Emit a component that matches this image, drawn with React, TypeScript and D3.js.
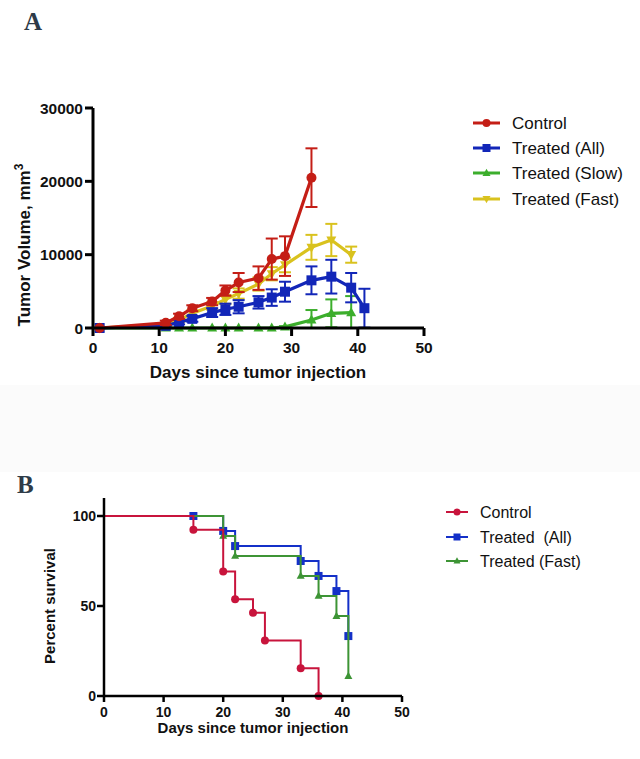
import React from "react";
import * as d3 from "d3";

// ---------- Panel A data (mean ± SEM tumor volume) ----------
const controlDays = [1, 11, 13, 15, 18, 20, 22, 25, 27, 29, 33];
const controlMean = [0, 700, 1600, 2700, 3600, 5100, 6200, 6800, 9400, 9800, 20500];
const controlSem = [0, 300, 350, 400, 500, 700, 1300, 1600, 2800, 2700, 4000];

const allDays = [1, 11, 13, 15, 18, 20, 22, 25, 27, 29, 33, 36, 39, 41];
const allMean = [0, 300, 800, 1250, 2100, 2550, 2900, 3500, 4150, 4950, 6500, 7000, 5500, 2700];
const allSem = [0, 200, 300, 400, 600, 770, 900, 850, 1130, 1360, 1900, 2300, 2000, 2650];

const slowDays = [1, 11, 13, 15, 18, 20, 22, 25, 27, 29, 33, 36, 39];
const slowMean = [0, 0, 0, 0, 0, 0, 0, 0, 0, 150, 1100, 2000, 2100];
const slowSem = [0, 0, 0, 0, 0, 0, 0, 0, 0, 100, 1350, 1900, 2250];

const fastDays = [1, 11, 13, 15, 18, 20, 22, 25, 27, 29, 33, 36, 39];
const fastMean = [0, 500, 1100, 2000, 3000, 3900, 4700, 6000, 7400, 8600, 11000, 12000, 10000];
const fastSem = [0, 200, 300, 400, 500, 600, 700, 900, 900, 1000, 1700, 2200, 1100];

const xTicksA = [0, 10, 20, 30, 40, 50];
const yTicksA = [0, 10000, 20000, 30000];

// ---------- Panel B data (Kaplan–Meier survival) ----------
const kmControlT = [0, 15, 20, 22, 25, 27, 33, 36];
const kmControlS = [100, 92.3, 69.2, 53.8, 46.2, 30.8, 15.4, 0];
const kmAllT = [0, 15, 20, 22, 33, 36, 39, 41];
const kmAllS = [100, 100, 91.7, 83.3, 75, 66.7, 58.3, 33.3];
const kmFastT = [0, 20, 22, 33, 36, 39, 41];
const kmFastS = [100, 88.9, 77.8, 66.7, 55.6, 44.4, 11.1];

const xTicksB = [0, 10, 20, 30, 40, 50];
const yTicksB = [0, 50, 100];

const FONT = "'Liberation Sans', Arial, Helvetica, sans-serif";

type Marker = "circle" | "square" | "triUp" | "triDown";

function MarkerShape({ kind, x, y, size, color }: { kind: Marker; x: number; y: number; size: number; color: string }) {
  const s = size;
  if (kind === "circle") return <circle cx={x} cy={y} r={s / 2} fill={color} />;
  if (kind === "square") return <rect x={x - s / 2} y={y - s / 2} width={s} height={s} fill={color} />;
  const h = s * 0.9;
  if (kind === "triUp")
    return <path d={`M${x},${y - h * 0.6}L${x + s / 2},${y + h * 0.4}L${x - s / 2},${y + h * 0.4}Z`} fill={color} />;
  return <path d={`M${x},${y + h * 0.6}L${x + s / 2},${y - h * 0.4}L${x - s / 2},${y - h * 0.4}Z`} fill={color} />;
}

export default function App() {
  // Panel A scales
  const xA = d3.scaleLinear().domain([0, 50]).range([93, 424]);
  const yA = d3.scaleLinear().domain([0, 30000]).range([328, 108]);

  const seriesA = [
    { name: "Treated (Fast)", days: fastDays, mean: fastMean, sem: fastSem, color: "#d9c21e", marker: "triDown" as Marker, size: 10 },
    { name: "Treated (Slow)", days: slowDays, mean: slowMean, sem: slowSem, color: "#3cae2c", marker: "triUp" as Marker, size: 10 },
    { name: "Treated (All)", days: allDays, mean: allMean, sem: allSem, color: "#1226b8", marker: "square" as Marker, size: 10 },
    { name: "Control", days: controlDays, mean: controlMean, sem: controlSem, color: "#c41e16", marker: "circle" as Marker, size: 10 },
  ];
  const legendA = [seriesA[3], seriesA[2], seriesA[1], seriesA[0]];
  const legendAY = [123, 148, 173, 199];

  const lineA = d3
    .line<[number, number]>()
    .x((d) => xA(d[0]))
    .y((d) => yA(d[1]));

  // Panel B scales
  const xB = d3.scaleLinear().domain([0, 50]).range([104, 402]);
  const yB = d3.scaleLinear().domain([0, 110]).range([696, 498]);

  const seriesB = [
    { name: "Treated  (All)", t: kmAllT, s: kmAllS, color: "#1430c8", marker: "square" as Marker, size: 8 },
    { name: "Treated (Fast)", t: kmFastT, s: kmFastS, color: "#3d9435", marker: "triUp" as Marker, size: 8 },
    { name: "Control", t: kmControlT, s: kmControlS, color: "#c8143c", marker: "circle" as Marker, size: 8 },
  ];
  const legendB = [seriesB[2], seriesB[0], seriesB[1]];
  const legendBY = [512, 537, 561];

  const stepLine = d3
    .line<[number, number]>()
    .x((d) => xB(d[0]))
    .y((d) => yB(d[1]))
    .curve(d3.curveStepAfter);

  const capW = 6;

  return (
    <svg
      width={640}
      height={759}
      style={{ position: "absolute", left: 0, top: 0, background: "#ffffff" }}
      fontFamily={FONT}
    >
      <rect x={0} y={0} width={640} height={759} fill="#ffffff" />
      <rect x={0} y={385} width={640} height={87} fill="#fbfbfb" />

      {/* Panel labels */}
      <text x={24} y={30} fontFamily="'Liberation Serif', 'Times New Roman', serif" fontWeight="bold" fontSize={25} fill="#2e3b48">
        A
      </text>
      <text x={17} y={493} fontFamily="'Liberation Serif', 'Times New Roman', serif" fontWeight="bold" fontSize={25} fill="#2e3b48">
        B
      </text>

      {/* ===== Panel A ===== */}
      <g>
        {seriesA.map((s) => {
          const pts: [number, number][] = s.days.map((d, i) => [d, s.mean[i]]);
          return (
            <g key={s.name}>
              {s.days.map((d, i) => {
                if (s.sem[i] <= 0) return null;
                const top = yA(s.mean[i] + s.sem[i]);
                const bot = yA(Math.max(0, s.mean[i] - s.sem[i]));
                const x = xA(d);
                return (
                  <g key={i} stroke={s.color} strokeWidth={2}>
                    <line x1={x} x2={x} y1={top} y2={bot} />
                    <line x1={x - capW} x2={x + capW} y1={top} y2={top} />
                    <line x1={x - capW} x2={x + capW} y1={bot} y2={bot} />
                  </g>
                );
              })}
              <path d={lineA(pts) || ""} fill="none" stroke={s.color} strokeWidth={3.2} strokeLinejoin="round" />
              {pts.map((p, i) => (
                <MarkerShape key={i} kind={s.marker} x={xA(p[0])} y={yA(p[1])} size={s.size} color={s.color} />
              ))}
            </g>
          );
        })}

        {/* Axes A */}
        <line x1={xA(0)} x2={xA(50)} y1={yA(0)} y2={yA(0)} stroke="#000" strokeWidth={3} />
        <line x1={xA(0)} x2={xA(0)} y1={yA(30000)} y2={yA(0)} stroke="#000" strokeWidth={3} />
        {xTicksA.map((t) => (
          <g key={t}>
            <line x1={xA(t)} x2={xA(t)} y1={yA(0)} y2={yA(0) + 8} stroke="#000" strokeWidth={3} />
            <text x={xA(t)} y={353} textAnchor="middle" fontSize={15.5} fontWeight="bold" fill="#111">
              {t}
            </text>
          </g>
        ))}
        {yTicksA.map((t) => (
          <g key={t}>
            <line x1={xA(0) - 8} x2={xA(0)} y1={yA(t)} y2={yA(t)} stroke="#000" strokeWidth={3} />
            <text x={83} y={yA(t) + 5.5} textAnchor="end" fontSize={15.5} fontWeight="bold" fill="#111">
              {t}
            </text>
          </g>
        ))}
        <text x={258} y={378} textAnchor="middle" fontSize={17} fontWeight="bold" fill="#111">
          Days since tumor injection
        </text>
        <text transform="translate(30,245) rotate(-90)" textAnchor="middle" fontSize={17} fontWeight="bold" fill="#111">
          Tumor Volume, mm
          <tspan dy={-7} fontSize={12}>3</tspan>
        </text>

        {/* Legend A */}
        {legendA.map((s, i) => (
          <g key={s.name}>
            <line x1={473} x2={500} y1={legendAY[i]} y2={legendAY[i]} stroke={s.color} strokeWidth={3} />
            <MarkerShape kind={s.marker} x={486.5} y={legendAY[i]} size={8} color={s.color} />
            <text x={512} y={legendAY[i] + 6} fontSize={17} fill="#111">
              {s.name}
            </text>
          </g>
        ))}
      </g>

      {/* ===== Panel B ===== */}
      <g>
        {seriesB.map((s) => {
          const pts: [number, number][] = s.t.map((t, i) => [t, s.s[i]]);
          return (
            <g key={s.name}>
              <path d={stepLine(pts) || ""} fill="none" stroke={s.color} strokeWidth={2} />
              {pts.slice(1).map((p, i) => (
                <MarkerShape key={i} kind={s.marker} x={xB(p[0])} y={yB(p[1])} size={s.size} color={s.color} />
              ))}
            </g>
          );
        })}

        {/* Axes B */}
        <line x1={xB(0)} x2={xB(50)} y1={yB(0)} y2={yB(0)} stroke="#000" strokeWidth={2.5} />
        <line x1={xB(0)} x2={xB(0)} y1={yB(110)} y2={yB(0)} stroke="#000" strokeWidth={2.5} />
        {xTicksB.map((t) => (
          <g key={t}>
            <line x1={xB(t)} x2={xB(t)} y1={yB(0)} y2={yB(0) + 6} stroke="#000" strokeWidth={2.5} />
            <text x={xB(t)} y={717} textAnchor="middle" fontSize={14} fontWeight="bold" fill="#111">
              {t}
            </text>
          </g>
        ))}
        {yTicksB.map((t) => (
          <g key={t}>
            <line x1={xB(0) - 7} x2={xB(0)} y1={yB(t)} y2={yB(t)} stroke="#000" strokeWidth={2.5} />
            <text x={96} y={yB(t) + 5} textAnchor="end" fontSize={14} fontWeight="bold" fill="#111">
              {t}
            </text>
          </g>
        ))}
        <text x={253} y={733} textAnchor="middle" fontSize={15} fontWeight="bold" fill="#111">
          Days since tumor injection
        </text>
        <text transform="translate(55,606) rotate(-90)" textAnchor="middle" fontSize={15} fontWeight="bold" fill="#111">
          Percent survival
        </text>

        {/* Legend B */}
        {legendB.map((s, i) => (
          <g key={s.name}>
            <line x1={446} x2={468} y1={legendBY[i]} y2={legendBY[i]} stroke={s.color} strokeWidth={2} />
            <MarkerShape kind={s.marker} x={457} y={legendBY[i]} size={7} color={s.color} />
            <text x={480} y={legendBY[i] + 6} fontSize={16} fill="#111" style={{ whiteSpace: "pre" }}>
              {s.name}
            </text>
          </g>
        ))}
      </g>
    </svg>
  );
}
